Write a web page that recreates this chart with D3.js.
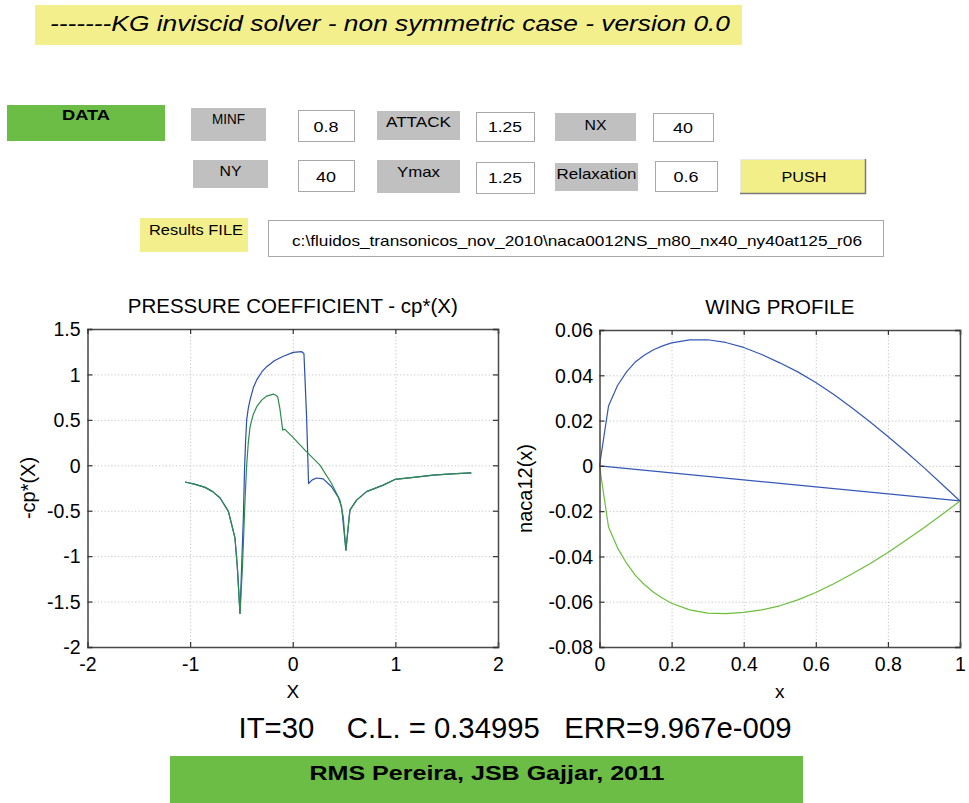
<!DOCTYPE html>
<html><head><meta charset="utf-8">
<script src="https://cdn.jsdelivr.net/npm/d3@7"></script>
<style>
html,body{margin:0;padding:0;background:#fff;}
svg{display:block;}
.ui{font-family:"Liberation Sans Narrow","Arial Narrow","Liberation Sans",sans-serif;}
.ax{font-family:"Liberation Sans",Arial,Helvetica,sans-serif;}
</style></head><body>
<svg id="c" width="969" height="803"></svg>
<script>
// ---------- DATA ----------
// Pressure coefficient, upper surface (blue) incl. shared wake
const upperX  = [-1.049,-0.95,-0.854,-0.78,-0.708,-0.627,-0.563,-0.54,-0.514,-0.481,-0.47,-0.46,-0.449,-0.433,-0.416,-0.385,-0.351,-0.30,-0.254,-0.18,-0.092,0.005,0.087,0.109,0.135,0.154,0.19,0.232,0.297,0.378,0.443,0.476,0.518,0.557,0.622,0.719,0.881,0.995,1.2,1.368,1.55,1.74];
const upperCp = [-0.184,-0.21,-0.243,-0.29,-0.36,-0.507,-0.80,-1.12,-1.63,-0.567,-0.05,0.25,0.50,0.63,0.72,0.85,0.94,1.03,1.085,1.15,1.20,1.243,1.25,1.23,0.53,-0.20,-0.16,-0.14,-0.15,-0.236,-0.35,-0.457,-0.934,-0.493,-0.383,-0.29,-0.218,-0.156,-0.13,-0.109,-0.095,-0.083];
// Pressure coefficient, lower surface (green) incl. wake
const lowerX  = [-1.049,-0.95,-0.854,-0.78,-0.708,-0.627,-0.563,-0.54,-0.514,-0.49,-0.465,-0.449,-0.433,-0.416,-0.385,-0.351,-0.30,-0.254,-0.19,-0.165,-0.147,-0.125,-0.098,-0.076,0.0,0.119,0.265,0.378,0.459,0.492,0.518,0.557,0.622,0.719,0.881,0.995,1.2,1.368,1.55,1.74];
const lowerCp = [-0.184,-0.21,-0.243,-0.29,-0.36,-0.507,-0.80,-1.12,-1.63,-1.12,-0.383,0.0,0.25,0.424,0.56,0.645,0.72,0.762,0.784,0.77,0.755,0.62,0.39,0.395,0.31,0.167,0.002,-0.20,-0.383,-0.567,-0.934,-0.493,-0.383,-0.29,-0.218,-0.156,-0.13,-0.109,-0.095,-0.083];
// Wing profile
const profX     = [0,0.025,0.05,0.075,0.1,0.125,0.15,0.175,0.2,0.25,0.3,0.35,0.4,0.45,0.5,0.55,0.6,0.65,0.7,0.75,0.8,0.85,0.9,0.95,1.0];
const profUpper = [0,0.0264,0.0355,0.0415,0.046,0.049,0.0513,0.053,0.0543,0.0556,0.0557,0.0545,0.0523,0.0492,0.0455,0.0415,0.0368,0.0315,0.0257,0.0195,0.013,0.0062,-0.0008,-0.0081,-0.0155];
const profLower = [0,-0.027,-0.0362,-0.043,-0.0485,-0.0525,-0.0558,-0.0585,-0.0607,-0.0636,-0.065,-0.0653,-0.0647,-0.0636,-0.0618,-0.0592,-0.0559,-0.0521,-0.0478,-0.0432,-0.0383,-0.0329,-0.0273,-0.0215,-0.0155];
const chordX = [0,1];
const chordY = [0,-0.0155];
// Ticks
const cpXTicks = [-2,-1,0,1,2];
const cpXLabels = ["-2","-1","0","1","2"];
const cpYTicks = [-2,-1.5,-1,-0.5,0,0.5,1,1.5];
const cpYLabels = ["-2","-1.5","-1","-0.5","0","0.5","1","1.5"];
const wpXTicks = [0,0.2,0.4,0.6,0.8,1];
const wpXLabels = ["0","0.2","0.4","0.6","0.8","1"];
const wpYTicks = [-0.08,-0.06,-0.04,-0.02,0,0.02,0.04,0.06];
const wpYLabels = ["-0.08","-0.06","-0.04","-0.02","0","0.02","0.04","0.06"];
// Texts
const titleText = "-------KG inviscid solver - non symmetric case - version 0.0";
const statusText = "IT=30    C.L. = 0.34995   ERR=9.967e-009";
const footerText = "RMS Pereira, JSB Gajjar, 2011";
const fileText = "c:\\fluidos_transonicos_nov_2010\\naca0012NS_m80_nx40_ny40at125_r06";

// ---------- DRAW ----------
const svg = d3.select("#c");
svg.append("rect").attr("width",969).attr("height",803).attr("fill","#fff");

function rect(x,y,w,h,fill,stroke){
  return svg.append("rect").attr("x",x).attr("y",y).attr("width",w).attr("height",h)
    .attr("fill",fill).attr("stroke",stroke||"none").attr("stroke-width",stroke?1:0);
}
function txt(s,cx,by,size,len,opts){
  opts=opts||{};
  const t = svg.append("text").attr("class","ui").attr("x",cx).attr("y",by)
    .attr("text-anchor","middle").attr("font-size",size).attr("fill",opts.fill||"#000")
    .style("white-space","pre").text(s);
  if(opts.weight) t.attr("font-weight",opts.weight);
  if(opts.style) t.attr("font-style",opts.style);
  if(len) t.attr("textLength",len).attr("lengthAdjust","spacingAndGlyphs");
  return t;
}
const YEL="#f3ef8d", GRN="#6cbd45", GRY="#c0c0c0";

// Title banner
rect(35,5,707,40,YEL);
txt(titleText,390,31,22,680,{style:"italic"});

// DATA
rect(7,105,158,36,GRN);
txt("DATA",86,120,15,48,{weight:"bold"});

function grayBox(x,y,w,h,label,by,len){ rect(x,y,w,h,GRY); txt(label,x+w/2,by,15,len); }
function whiteBox(x,y,w,h,val,by,len){
  rect(x+0.5,y+0.5,w,h,"#fff","#a8a8a8");
  txt(val,x+w/2,by,15,len);
}
grayBox(191,108,75,33,"MINF",124,33);
whiteBox(298,110,56,31,"0.8",132,25);
grayBox(377,111,83,29,"ATTACK",127,65);
whiteBox(476,112,58,29,"1.25",132,34);
grayBox(555,113,81,28,"NX",130,22);
whiteBox(653,113,60,28,"40",133,20);

grayBox(193,160,75,28,"NY",176,22);
whiteBox(298,160,56,31,"40",182,20);
grayBox(377,160,83,33,"Ymax",177,43);
whiteBox(476,162,58,31,"1.25",183,34);
grayBox(555,163,83,28,"Relaxation",179,80);
whiteBox(655,161,62,30,"0.6",182,25);

// PUSH button
rect(740,159,126,35,"#f2ee88");
svg.append("path").attr("d","M740.5,193.5 V159.5 H865.5").attr("fill","none").attr("stroke","#e8e8e8").attr("stroke-width",1);
svg.append("path").attr("d","M740,193.5 H865.5 V159").attr("fill","none").attr("stroke","#7a7a7a").attr("stroke-width",1.5);
txt("PUSH",804,182,15,45);

// Results FILE
rect(140,218,108,34,YEL);
txt("Results FILE",196,235,15,94);
rect(268.5,220.5,615,36,"#fff","#a8a8a8");
txt(fileText,577,246,15,570);

// ---------- Plot helper ----------
function plot(cfg){
  const g = svg.append("g").attr("class","ax");
  const x = d3.scaleLinear().domain(cfg.xd).range([cfg.x0,cfg.x1]);
  const y = d3.scaleLinear().domain(cfg.yd).range([cfg.y1,cfg.y0]);
  const W = cfg.x1-cfg.x0, H = cfg.y1-cfg.y0;
  // grid
  const gx = g.append("g").attr("transform",`translate(0,${cfg.y1})`)
    .call(d3.axisBottom(x).tickValues(cfg.xt).tickSize(-H).tickFormat(""));
  gx.select(".domain").remove();
  gx.selectAll("line").attr("stroke","#c4c4c4").attr("stroke-dasharray","1.2,2.2");
  const gy = g.append("g").attr("transform",`translate(${cfg.x0},0)`)
    .call(d3.axisLeft(y).tickValues(cfg.yt).tickSize(-W).tickFormat(""));
  gy.select(".domain").remove();
  gy.selectAll("line").attr("stroke","#c4c4c4").attr("stroke-dasharray","1.2,2.2");
  // lines
  const line = d3.line().x(d=>x(d[0])).y(d=>y(d[1]));
  cfg.series.forEach(s=>{
    g.append("path").datum(s.xs.map((v,i)=>[v,s.ys[i]]))
      .attr("d",line).attr("fill","none").attr("stroke",s.color).attr("stroke-width",1.2)
      .attr("stroke-linejoin","round");
  });
  // axes with inward ticks
  const fs = 19.5;
  const ab = g.append("g").attr("transform",`translate(0,${cfg.y1})`)
    .call(d3.axisBottom(x).tickValues(cfg.xt).tickSize(-5).tickPadding(10).tickFormat((d,i)=>cfg.xl[i]));
  const at = g.append("g").attr("transform",`translate(0,${cfg.y0})`)
    .call(d3.axisTop(x).tickValues(cfg.xt).tickSize(-5).tickFormat(""));
  const al = g.append("g").attr("transform",`translate(${cfg.x0},0)`)
    .call(d3.axisLeft(y).tickValues(cfg.yt).tickSize(-5).tickPadding(cfg.ypad).tickFormat((d,i)=>cfg.yl[i]));
  const ar = g.append("g").attr("transform",`translate(${cfg.x1},0)`)
    .call(d3.axisRight(y).tickValues(cfg.yt).tickSize(-5).tickFormat(""));
  [ab,at,al,ar].forEach(a=>{
    a.attr("font-family",null).attr("font-size",null);
    a.selectAll("line").attr("stroke","#333").attr("stroke-width",1.2);
    a.select(".domain").attr("stroke","#4a4a4a").attr("stroke-width",1.5);
    a.selectAll("text").attr("fill","#000").attr("font-size",fs)
      .attr("font-family",'"Liberation Sans",Arial,sans-serif');
  });
  ab.selectAll("text").attr("dy","0.72em");
  al.selectAll("text").attr("dy","0.35em");
  // titles
  g.append("text").attr("x",(cfg.x0+cfg.x1)/2).attr("y",cfg.ty).attr("text-anchor","middle")
    .attr("font-size",20.5).text(cfg.title);
  g.append("text").attr("x",(cfg.x0+cfg.x1)/2).attr("y",698).attr("text-anchor","middle")
    .attr("font-size",19).text(cfg.xlabel);
  g.append("text").attr("transform",`translate(${cfg.ylx},${(cfg.y0+cfg.y1)/2}) rotate(-90)`)
    .attr("text-anchor","middle").attr("font-size",20).text(cfg.ylabel);
}

plot({x0:87.5,x1:498,y0:329,y1:647,xd:[-2,2],yd:[-2,1.5],xt:cpXTicks,xl:cpXLabels,yt:cpYTicks,yl:cpYLabels,
  ypad:7,title:"PRESSURE COEFFICIENT - cp*(X)",ty:313,xlabel:"X",ylabel:"-cp*(X)",ylx:35,
  series:[{xs:upperX,ys:upperCp,color:"#2b4fae"},{xs:lowerX,ys:lowerCp,color:"#2e8b4e"}]});

plot({x0:599.5,x1:960,y0:330,y1:647,xd:[0,1],yd:[-0.08,0.06],xt:wpXTicks,xl:wpXLabels,yt:wpYTicks,yl:wpYLabels,
  ypad:6.5,title:"WING PROFILE",ty:314,xlabel:"x",ylabel:"naca12(x)",ylx:532,
  series:[{xs:profX,ys:profUpper,color:"#3558b8"},{xs:chordX,ys:chordY,color:"#3558b8"},{xs:profX,ys:profLower,color:"#6cbf3c"}]});

// status line
txt(statusText,515,738,29,553);

// footer
rect(170,756,633,47,GRN);
txt(footerText,487,780,21,355,{weight:"bold"});
</script>
</body></html>
